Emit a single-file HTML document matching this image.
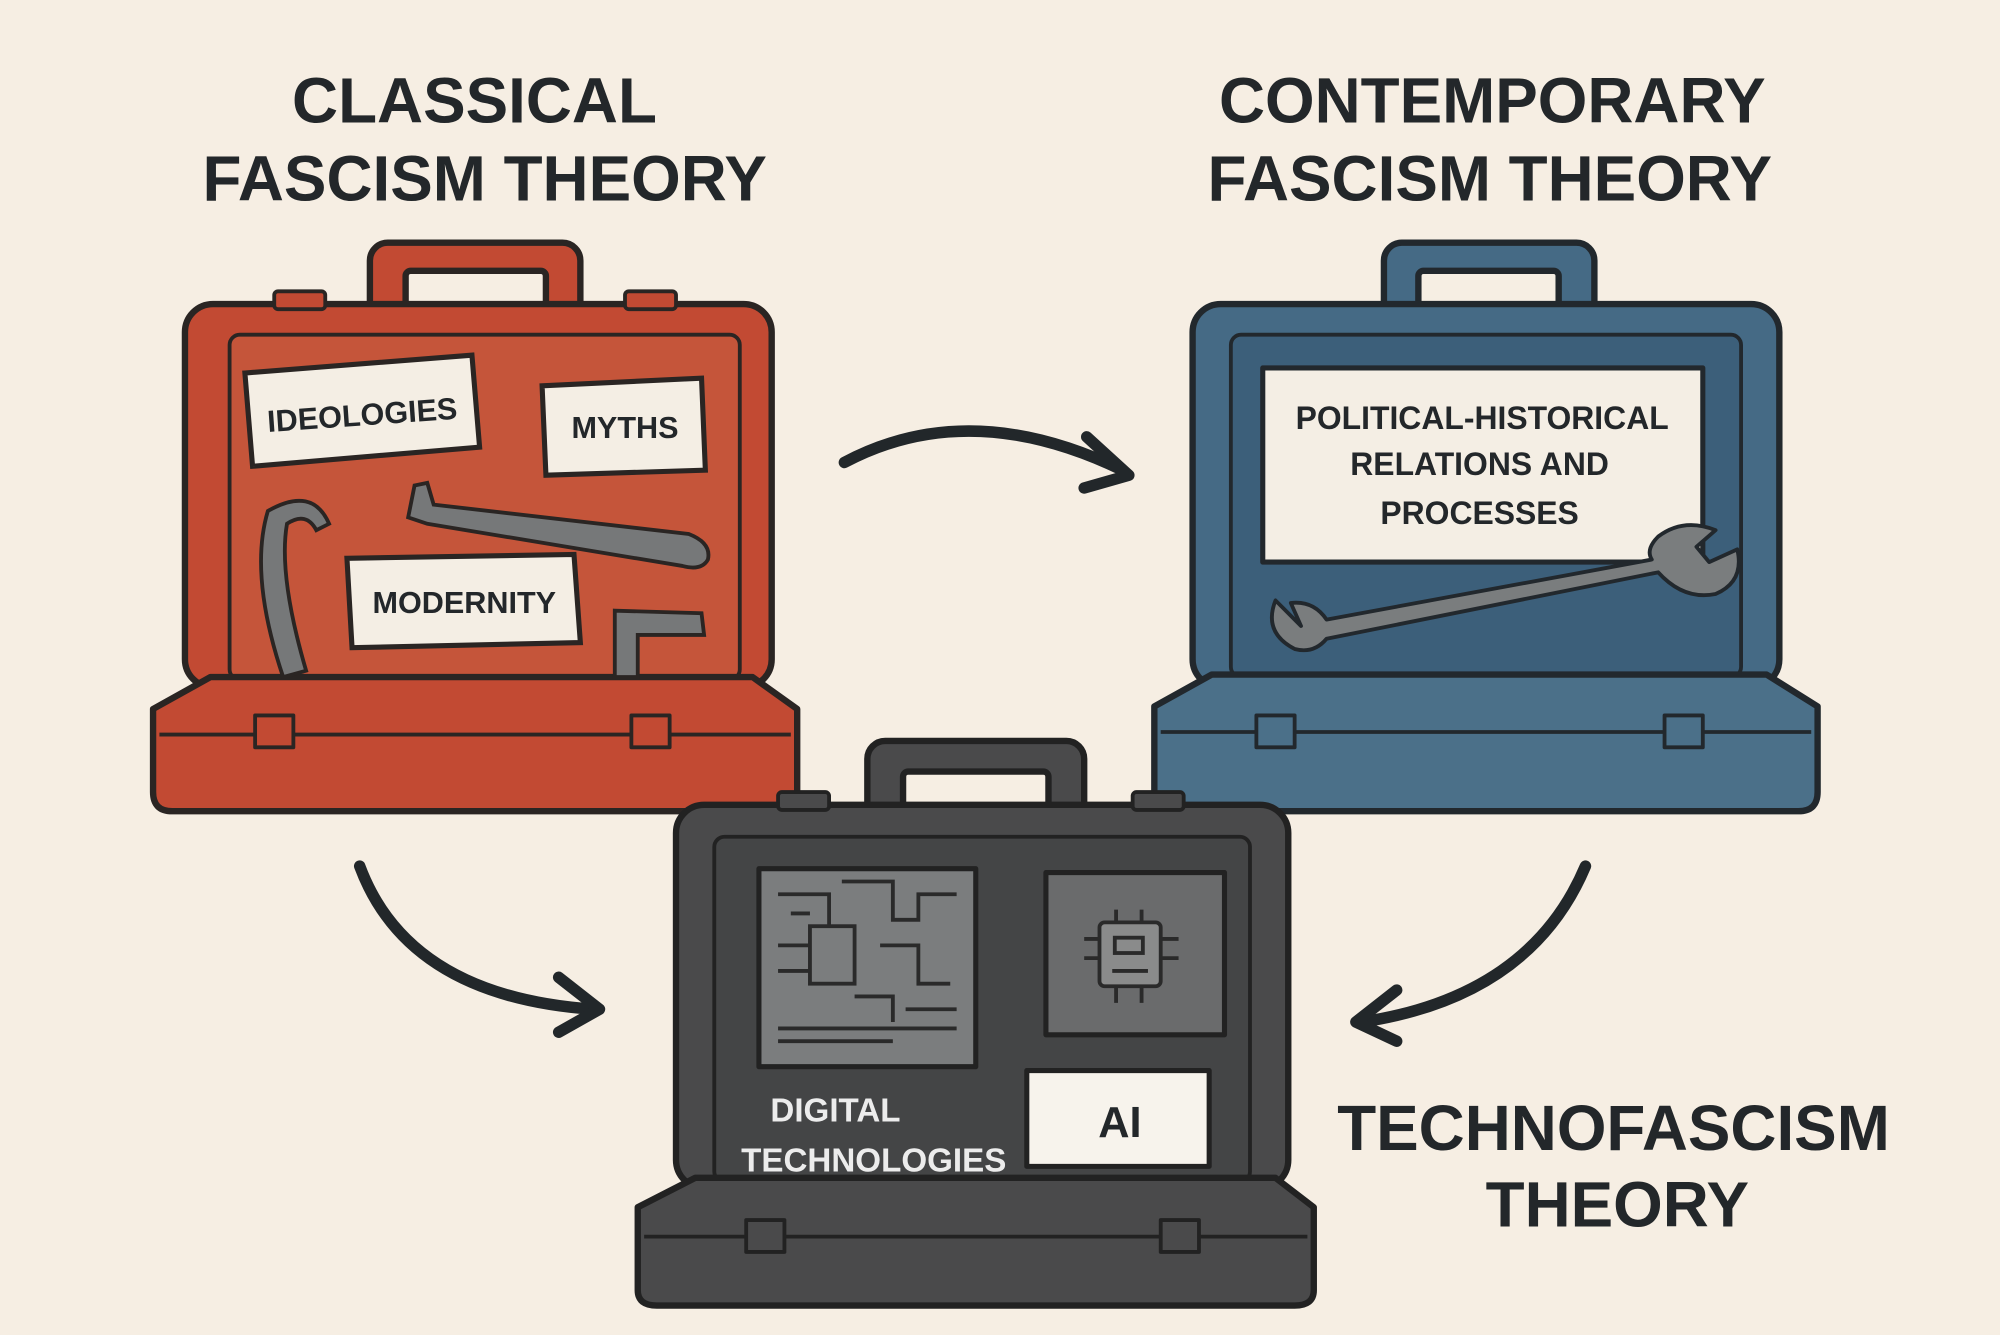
<!DOCTYPE html>
<html><head><meta charset="utf-8"><style>
html,body{margin:0;padding:0;background:#f6eee3;}
svg{display:block;}
text{font-family:"Liberation Sans","DejaVu Sans",sans-serif;font-weight:bold;}
</style></head><body>
<svg width="2000" height="1335" viewBox="0 0 1568 1045" preserveAspectRatio="none" xmlns="http://www.w3.org/2000/svg">
<rect x="0" y="0" width="1568" height="1045" fill="#f6eee3"/>
<g fill="#23272a" text-anchor="middle" font-size="50">
<text x="372" y="96">CLASSICAL</text>
<text x="380" y="157">FASCISM THEORY</text>
<text x="1170" y="96">CONTEMPORARY</text>
<text x="1168" y="157">FASCISM THEORY</text>
<text x="1265" y="900">TECHNOFASCISM</text>
<text x="1268" y="960">THEORY</text>
</g>

<!-- RED CASE -->
<g stroke="#2a2523" stroke-width="5" stroke-linejoin="round">
<rect x="290" y="190" width="165" height="60" rx="14" fill="#c24a33"/>
<rect x="318" y="212" width="110" height="40" rx="4" fill="#f6eee3"/>
<rect x="145" y="238" width="460" height="300" rx="22" fill="#c24a33"/>
<rect x="180" y="262" width="400" height="270" rx="8" fill="#c5553a" stroke-width="3"/>
<path d="M165 530 L590 530 L625 555 L625 620 Q625 635 610 635 L135 635 Q120 635 120 620 L120 555 Z" fill="#c24a33"/>
<path d="M125 575 L620 575" fill="none" stroke-width="3"/>
<rect x="200" y="560" width="30" height="25" fill="#c24a33" stroke-width="3"/>
<rect x="495" y="560" width="30" height="25" fill="#c24a33" stroke-width="3"/>
<rect x="215" y="228" width="40" height="14" rx="3" fill="#c24a33" stroke-width="3"/>
<rect x="490" y="228" width="40" height="14" rx="3" fill="#c24a33" stroke-width="3"/>
</g>
<g stroke="#2a2523" stroke-width="3" fill="#767879">
<path d="M210 400 Q245 380 258 410 L248 415 Q240 400 225 410 Q218 450 240 525 L222 530 Q195 450 210 400 Z"/>
<path d="M325 380 L335 378 L340 395 L540 418 Q558 425 555 438 Q550 447 535 443 L335 410 L320 405 Z"/>
<path d="M482 478 L550 480 L552 497 L500 497 L500 530 L482 530 Z"/>
</g>
<g stroke="#2a2523" stroke-width="4" fill="#f4eee4">
<polygon points="192,292 370,278 376,350 198,365"/>
<polygon points="425,302 550,296 553,368 428,372"/>
<polygon points="272,437 450,434 455,503 276,507"/>
</g>
<g fill="#23272a" font-size="24" text-anchor="middle">
<text x="284" y="333" transform="rotate(-4 284 325)">IDEOLOGIES</text>
<text x="490" y="343">MYTHS</text>
<text x="364" y="480">MODERNITY</text>
</g>

<!-- BLUE CASE -->
<g stroke="#22282d" stroke-width="5" stroke-linejoin="round">
<rect x="1085" y="190" width="165" height="60" rx="14" fill="#456a85"/>
<rect x="1112" y="212" width="110" height="40" rx="4" fill="#f6eee3"/>
<rect x="935" y="238" width="460" height="300" rx="22" fill="#456a85"/>
<rect x="965" y="262" width="400" height="268" rx="8" fill="#3c5f7a" stroke-width="3"/>
<path d="M950 528 L1385 528 L1425 553 L1425 620 Q1425 635 1410 635 L920 635 Q905 635 905 620 L905 553 Z" fill="#4b7089"/>
<path d="M910 573 L1420 573" fill="none" stroke-width="3"/>
<rect x="985" y="560" width="30" height="25" fill="#4b7089" stroke-width="3"/>
<rect x="1305" y="560" width="30" height="25" fill="#4b7089" stroke-width="3"/>
<rect x="990" y="288" width="345" height="152" fill="#f4eee4" stroke-width="4"/>
<path d="M1000 470 Q990 495 1015 508 Q1030 512 1040 500 L1300 448 Q1320 470 1345 465 Q1368 455 1362 430 L1340 440 L1330 428 L1345 415 Q1320 405 1300 420 Q1290 430 1295 438 L1040 485 Q1030 470 1012 472 L1020 490 Z" fill="#7a7d7e" stroke-width="3"/>
</g>
<g fill="#23272a" font-size="25" text-anchor="middle">
<text x="1162" y="336">POLITICAL-HISTORICAL</text>
<text x="1160" y="372">RELATIONS AND</text>
<text x="1160" y="410">PROCESSES</text>
</g>

<!-- ARROWS -->
<g fill="none" stroke="#22272a" stroke-width="9" stroke-linecap="round" stroke-linejoin="round">
<path d="M662 362 Q760 310 880 368"/>
<path d="M852 342 L885 372 L850 382"/>
<path d="M282 678 Q320 780 465 790"/>
<path d="M438 765 L470 790 L438 808"/>
<path d="M1243 678 Q1200 780 1068 800"/>
<path d="M1095 775 L1063 800 L1095 815"/>
</g>

<!-- DARK CASE -->
<g stroke="#222" stroke-width="5" stroke-linejoin="round">
<rect x="680" y="580" width="170" height="62" rx="14" fill="#4a4a4b"/>
<rect x="708" y="604" width="114" height="40" rx="4" fill="#f6eee3"/>
<rect x="530" y="630" width="480" height="300" rx="22" fill="#4a4a4b"/>
<rect x="560" y="655" width="420" height="270" rx="8" fill="#444546" stroke-width="3"/>
<path d="M545 922 L1000 922 L1030 945 L1030 1010 Q1030 1022 1015 1022 L515 1022 Q500 1022 500 1010 L500 945 Z" fill="#4a4a4b"/>
<path d="M505 968 L1025 968" fill="none" stroke-width="3"/>
<rect x="585" y="955" width="30" height="25" fill="#4a4a4b" stroke-width="3"/>
<rect x="910" y="955" width="30" height="25" fill="#4a4a4b" stroke-width="3"/>
<rect x="610" y="620" width="40" height="14" rx="3" fill="#4a4a4b" stroke-width="3"/>
<rect x="888" y="620" width="40" height="14" rx="3" fill="#4a4a4b" stroke-width="3"/>
<rect x="595" y="680" width="170" height="155" fill="#7b7d7e" stroke-width="4"/>
<rect x="820" y="683" width="140" height="127" fill="#6a6b6c" stroke-width="4"/>
<rect x="805" y="838" width="143" height="75" fill="#f7f3ec" stroke-width="4"/>
</g>
<g fill="none" stroke="#2a2a2a" stroke-width="3">
<rect x="635" y="725" width="35" height="45"/>
<path d="M610 700 L650 700 L650 725 M620 715 L635 715 M610 740 L635 740 M610 760 L635 760 M660 690 L700 690 L700 720 L720 720 L720 700 L750 700 M690 740 L720 740 L720 770 L745 770 M670 780 L700 780 L700 800 M710 790 L750 790 M610 805 L750 805 M610 815 L700 815"/>
<rect x="862" y="722" width="48" height="50" rx="4" fill="#8a8b8b"/>
<rect x="874" y="734" width="22" height="12"/>
<path d="M872 760 L900 760 M850 735 L862 735 M850 750 L862 750 M910 735 L924 735 M910 750 L924 750 M875 712 L875 722 M895 712 L895 722 M875 772 L875 785 M895 772 L895 785"/>
</g>
<g text-anchor="middle">
<text x="655" y="878" fill="#ececec" font-size="26" font-weight="normal">DIGITAL</text>
<text x="685" y="917" fill="#ececec" font-size="26" font-weight="normal">TECHNOLOGIES</text>
<text x="878" y="890" fill="#23272a" font-size="34" font-weight="normal">AI</text>
</g>
</svg>
</body></html>
